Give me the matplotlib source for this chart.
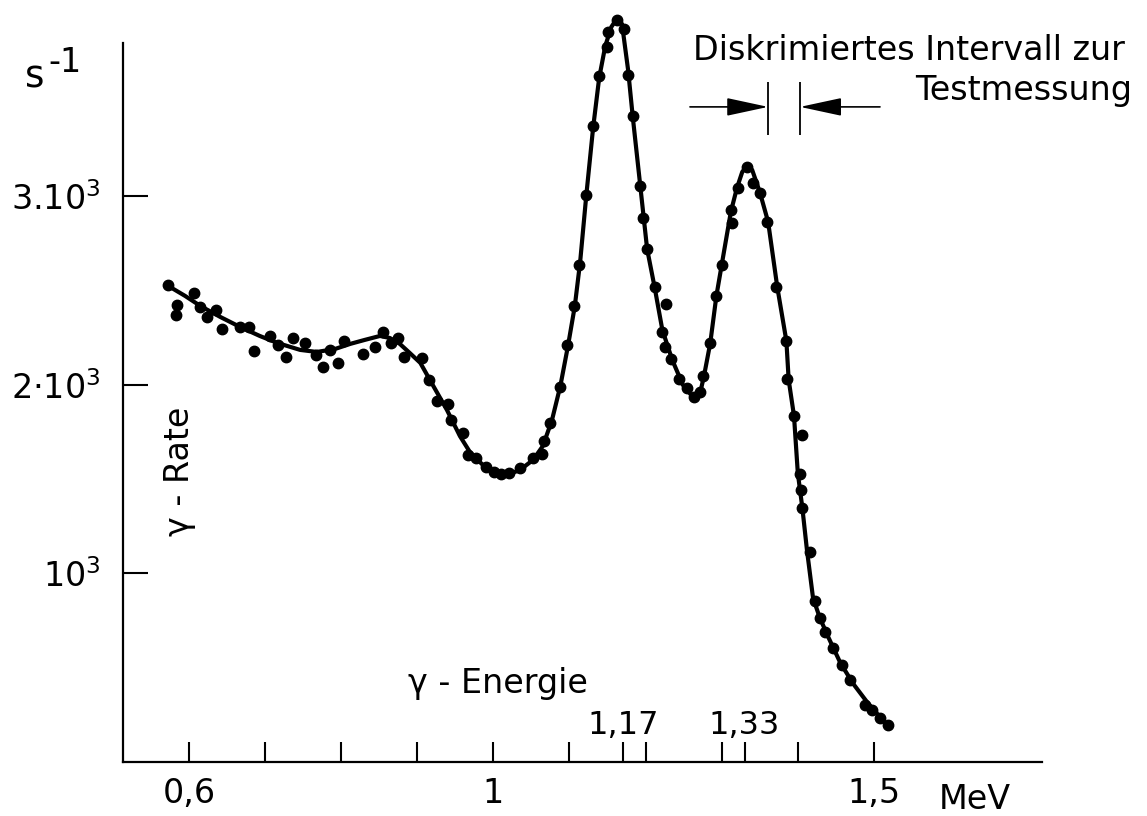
import matplotlib.pyplot as plt

# Messpunkte: gamma-Energie (MeV) und Rate (1/s)
punkte_E = [0.573, 0.584, 0.583, 0.606, 0.615, 0.624, 0.636, 0.643, 0.667, 0.679,
            0.686, 0.707, 0.717, 0.727, 0.737, 0.752, 0.767, 0.776, 0.785, 0.796,
            0.804, 0.829, 0.844, 0.855, 0.866, 0.875, 0.883, 0.906, 0.916, 0.926,
            0.941, 0.944, 0.960, 0.966, 0.977, 0.990, 1.001, 1.010, 1.020, 1.035,
            1.052, 1.064, 1.066, 1.074, 1.087, 1.097, 1.106, 1.112, 1.122, 1.131,
            1.139, 1.149, 1.151, 1.162, 1.171, 1.177, 1.183, 1.193, 1.196, 1.202,
            1.212, 1.227, 1.221, 1.225, 1.234, 1.244, 1.254, 1.263, 1.272, 1.276,
            1.284, 1.293, 1.300, 1.312, 1.313, 1.321, 1.333, 1.341, 1.350, 1.360,
            1.372, 1.384, 1.386, 1.395, 1.406, 1.403, 1.404, 1.405, 1.416, 1.423,
            1.429, 1.436, 1.446, 1.458, 1.468, 1.488, 1.498, 1.508, 1.518]
punkte_R = [2530, 2424, 2371, 2486, 2415, 2362, 2398, 2295, 2306, 2306,
            2180, 2260, 2212, 2150, 2248, 2221, 2159, 2097, 2186, 2118,
            2235, 2164, 2200, 2280, 2221, 2248, 2150, 2142, 2027, 1915,
            1897, 1812, 1747, 1629, 1615, 1565, 1540, 1528, 1535, 1558,
            1611, 1634, 1703, 1800, 1988, 2212, 2417, 2637, 3005, 3374,
            3639, 3795, 3874, 3936, 3887, 3645, 3427, 3054, 2884, 2721,
            2518, 2430, 2283, 2200, 2136, 2031, 1982, 1935, 1961, 2048,
            2221, 2474, 2637, 2928, 2861, 3047, 3158, 3070, 3017, 2866,
            2521, 2233, 2030, 1833, 1735, 1528, 1443, 1346, 1116, 854,
            762, 690, 603, 515, 435, 302, 276, 232, 196]

# ausgeglichene Kurve
kurve_E = [0.575, 0.595, 0.615, 0.641, 0.667, 0.693, 0.716, 0.746, 0.768, 0.792,
           0.812, 0.831, 0.851, 0.864, 0.877, 0.890, 0.904, 0.921, 0.939, 0.956,
           0.969, 0.986, 1.005, 1.018, 1.035, 1.052, 1.065, 1.077, 1.088, 1.098,
           1.107, 1.114, 1.122, 1.131, 1.139, 1.147, 1.155, 1.162, 1.169, 1.177,
           1.183, 1.193, 1.202, 1.212, 1.222, 1.235, 1.249, 1.262, 1.272, 1.277,
           1.285, 1.293, 1.300, 1.312, 1.320, 1.327, 1.333, 1.340, 1.350, 1.361,
           1.373, 1.385, 1.388, 1.395, 1.400, 1.406, 1.412, 1.420, 1.429, 1.440,
           1.456, 1.473, 1.491, 1.508, 1.521]
kurve_R = [2520, 2472, 2419, 2361, 2308, 2260, 2223, 2186, 2175, 2191,
           2218, 2239, 2260, 2249, 2218, 2170, 2117, 1995, 1867, 1729,
           1645, 1576, 1533, 1523, 1549, 1602, 1676, 1814, 1995, 2207,
           2419, 2653, 3003, 3363, 3629, 3798, 3899, 3942, 3915, 3671,
           3427, 3056, 2721, 2515, 2292, 2133, 2000, 1936, 1963, 2053,
           2223, 2472, 2637, 2918, 3045, 3130, 3162, 3141, 3024, 2865,
           2520, 2233, 2027, 1836, 1533, 1347, 1125, 870, 764, 663,
           525, 414, 318, 239, 180]

x_ticks = [0.6, 0.7, 0.8, 0.9, 1.0, 1.1, 1.17, 1.2, 1.3, 1.33, 1.4, 1.5]
x_labels = ['0,6', '', '', '', '1', '', '', '', '', '', '', '1,5']
y_ticks = [1000, 2000, 3000]
y_labels = [r'10$^{\mathregular{3}}$', r'2·10$^{\mathregular{3}}$', r'3.10$^{\mathregular{3}}$']
peak_E = [1.17, 1.33]
peak_labels = ['1,17', '1,33']
disc_lo, disc_hi = 1.361, 1.403  # Diskriminatorfenster

fig = plt.figure(figsize=(11.47, 8.16), dpi=100)
ax = fig.add_axes([0.10724, 0.06618, 0.8082, 0.93382])
ax.set_xlim(0.5133, 1.7314)
ax.set_ylim(0, 4042)

for s in ['top', 'right']:
    ax.spines[s].set_visible(False)
ax.spines['left'].set_bounds(0, 3814)
ax.spines['bottom'].set_bounds(0.5133, 1.721)
for s in ['left', 'bottom']:
    ax.spines[s].set_linewidth(1.6)

ax.plot(kurve_E, kurve_R, color='black', lw=3.0, solid_capstyle='round',
        solid_joinstyle='round', zorder=2)
ax.plot(punkte_E, punkte_R, 'o', color='black', ms=7.5, zorder=3)

ax.set_xticks(x_ticks, labels=x_labels)
ax.set_yticks(y_ticks, labels=y_labels)
ax.tick_params(axis='x', direction='in', length=14.5, width=1.5, pad=11, labelsize=24)
ax.tick_params(axis='y', direction='in', length=18, width=1.5, pad=16, labelsize=24)

for e, t in zip(peak_E, peak_labels):
    ax.text(e, 150, t, ha='center', va='baseline', fontsize=23)

ax.text(0.888, 366, 'γ - Energie', ha='left', va='baseline', fontsize=24)
ax.text(1.632, -249, 'MeV', ha='center', va='baseline', fontsize=24, clip_on=False)
ax.text(0.588, 1544, 'γ - Rate', rotation=90, ha='center', va='center', fontsize=24)

fig.text(25 / 1147, 1 - 87 / 816, 's', fontsize=27, va='baseline')
fig.text(48 / 1147, 1 - 72 / 816, '-1', fontsize=24, va='baseline')

# Diskriminatorfenster
ax.text(1.2623, 3724, 'Diskrimiertes Intervall zur', ha='left', va='baseline', fontsize=24)
ax.text(1.554, 3512, 'Testmessung', ha='left', va='baseline', fontsize=24)
ax.vlines([disc_lo, disc_hi], 3326, 3607, color='black', lw=1.3)
pfeil = dict(arrowstyle='-|>,head_length=1.3,head_width=0.28', mutation_scale=20,
             color='black', lw=1.2, shrinkA=0, shrinkB=0)
ax.annotate('', xy=(disc_lo, 3475), xytext=(1.2583, 3475), arrowprops=pfeil)
ax.annotate('', xy=(disc_hi, 3475), xytext=(1.508, 3475), arrowprops=pfeil)

fig.savefig('out.png', dpi=100)
